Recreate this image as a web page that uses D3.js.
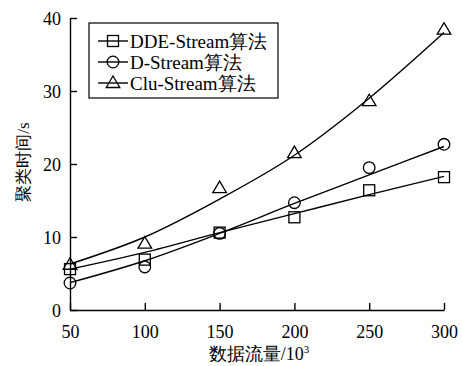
<!DOCTYPE html>
<html>
<head>
<meta charset="utf-8">
<script src="https://cdn.jsdelivr.net/npm/d3@7/dist/d3.min.js"></script>
<style>
  html, body { margin: 0; padding: 0; background: #fff; }
  svg { display: block; }
  text { font-family: "Liberation Serif", "Times New Roman", serif; fill: #000; }
</style>
</head>
<body>
<svg id="chart" width="462" height="366"></svg>
<script>
// Data stream size (x 10^3) and clustering time (s)
const flowSizes = [50, 100, 150, 200, 250, 300];
const xTicks = [50, 100, 150, 200, 250, 300];
const yTicks = [0, 10, 20, 30, 40];

// Measured times
const ddeTimes = [5.6, 6.9, 10.6, 12.7, 16.4, 18.2];
const dTimes   = [3.7, 5.9, 10.5, 14.7, 19.5, 22.7];
const cluTimes = [6.2, 9.1, 16.7, 21.5, 28.6, 38.4];

// Trend curves drawn through the markers
const ddeTrend = [5.6, 7.9, 10.6, 13.2, 15.8, 18.3];
const dTrend   = [3.75, 6.75, 10.5, 14.6, 18.5, 22.4];
const cluTrend = [6.3, 10.0, 15.2, 21.2, 29.0, 38.0];

const seriesNames = ["DDE-Stream算法", "D-Stream算法", "Clu-Stream算法"];
const seriesShapes = ["square", "circle", "triangle"];

const svg = d3.select("#chart");
const x = d3.scaleLinear().domain([50, 300]).range([70, 444]);
const y = d3.scaleLinear().domain([0, 40]).range([310, 18]);

const series = [
  { name: seriesNames[0], shape: seriesShapes[0], pts: ddeTimes, trend: ddeTrend },
  { name: seriesNames[1], shape: seriesShapes[1], pts: dTimes, trend: dTrend },
  { name: seriesNames[2], shape: seriesShapes[2], pts: cluTimes, trend: cluTrend }
];

// Axes with inward ticks
const xAxis = svg.append("g").attr("transform", `translate(0,${y(0)})`)
  .call(d3.axisBottom(x).tickValues(xTicks).tickSizeInner(-7).tickSizeOuter(0).tickPadding(15));
const yAxis = svg.append("g").attr("transform", `translate(${x(50)},0)`)
  .call(d3.axisLeft(y).tickValues(yTicks).tickSizeInner(-7).tickSizeOuter(0).tickPadding(9));
[xAxis, yAxis].forEach(g => {
  g.select(".domain").attr("stroke", "#000").attr("stroke-width", 1.4);
  g.selectAll(".tick line").attr("stroke", "#000").attr("stroke-width", 1.4);
  g.selectAll(".tick text").attr("font-family", "Liberation Serif, serif").attr("font-size", 18).attr("fill", "#000");
});
yAxis.selectAll(".tick text").attr("dy", "0.34em");

// Axis titles
svg.append("text")
  .attr("transform", `translate(29,162) rotate(-90)`)
  .attr("text-anchor", "middle")
  .attr("font-size", 17)
  .text("聚类时间/s");

const xt = svg.append("text")
  .attr("x", 259).attr("y", 360)
  .attr("text-anchor", "middle")
  .attr("font-size", 18);
xt.append("tspan").text("数据流量/10");
xt.append("tspan").attr("font-size", 11).attr("dy", -7).text("3");

// Marker drawing
function drawMarker(g, shape, cx, cy) {
  if (shape === "square") {
    g.append("rect").attr("x", cx - 5.5).attr("y", cy - 5.5).attr("width", 11).attr("height", 11)
      .attr("fill", "none").attr("stroke", "#000").attr("stroke-width", 1.3);
  } else if (shape === "circle") {
    g.append("circle").attr("cx", cx).attr("cy", cy).attr("r", 5.8)
      .attr("fill", "none").attr("stroke", "#000").attr("stroke-width", 1.3);
  } else {
    g.append("path")
      .attr("d", `M${cx},${cy - 7}L${cx + 6.8},${cy + 4.5}L${cx - 6.8},${cy + 4.5}Z`)
      .attr("fill", "none").attr("stroke", "#000").attr("stroke-width", 1.3);
  }
}

const line = d3.line()
  .x((d, i) => x(flowSizes[i]))
  .y(d => y(d))
  .curve(d3.curveMonotoneX);

series.forEach(s => {
  const g = svg.append("g");
  g.append("path").attr("d", line(s.trend))
    .attr("fill", "none").attr("stroke", "#000").attr("stroke-width", 1.4);
  s.pts.forEach((v, i) => drawMarker(g, s.shape, x(flowSizes[i]), y(v)));
});

// Legend
const legend = svg.append("g");
legend.append("rect").attr("x", 89).attr("y", 23).attr("width", 189).attr("height", 75)
  .attr("fill", "#fff").attr("stroke", "#000").attr("stroke-width", 1.2);
series.forEach((s, i) => {
  const cy = 41 + i * 21;
  legend.append("line").attr("x1", 98).attr("x2", 128).attr("y1", cy).attr("y2", cy)
    .attr("stroke", "#000").attr("stroke-width", 1.4);
  drawMarker(legend, s.shape, 113, cy);
  legend.append("text").attr("x", 130).attr("y", cy).attr("dy", "0.35em")
    .attr("font-size", 19).text(s.name);
});
</script>
</body>
</html>
